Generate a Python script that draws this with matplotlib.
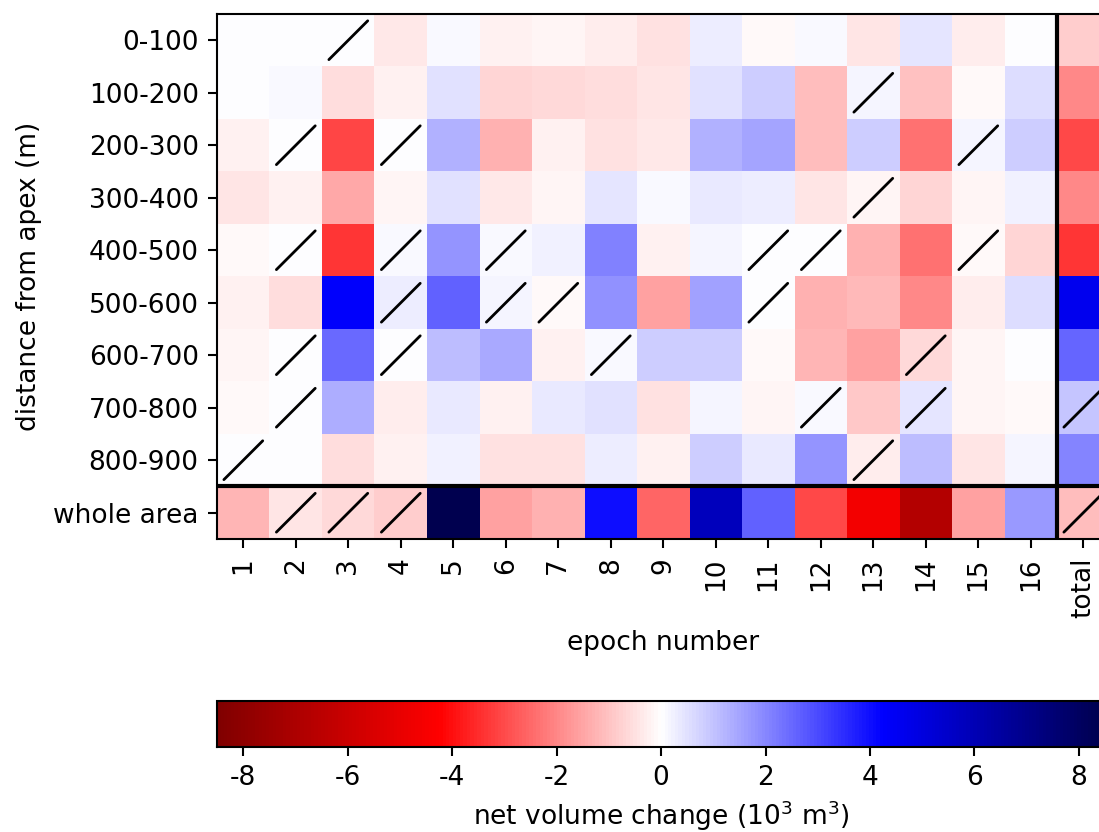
import numpy as np
import matplotlib
matplotlib.use('Agg')
import matplotlib.pyplot as plt

plt.rcParams['font.family'] = 'DejaVu Sans'
plt.rcParams['font.size'] = 19
plt.rcParams['axes.unicode_minus'] = False

linhas = ['0-100', '100-200', '200-300', '300-400', '400-500', '500-600',
          '600-700', '700-800', '800-900', 'whole area']
epocas = [str(i) for i in range(1, 17)] + ['total']

# variação de volume (10^3 m^3), epocas 1..16 e total
d0_100 = [0.02, 0.02, 0.0, -0.35, 0.12, -0.25, -0.15, -0.33, -0.48, 0.30, -0.10, 0.12, -0.40, 0.45, -0.28, 0.03, -0.85]
d100_200 = [0.01, 0.08, -0.55, -0.20, 0.52, -0.70, -0.65, -0.55, -0.45, 0.48, 0.85, -1.08, 0.18, -1.05, -0.08, 0.55, -1.98]
d200_300 = [-0.20, 0.02, -3.08, 0.02, 1.28, -1.28, -0.22, -0.50, -0.35, 1.28, 1.50, -1.08, 0.85, -2.38, 0.18, 0.85, -3.05]
d300_400 = [-0.42, -0.25, -1.45, -0.18, 0.50, -0.35, -0.17, 0.45, 0.08, 0.38, 0.32, -0.45, -0.18, -0.68, -0.17, 0.25, -1.98]
d400_500 = [-0.12, 0.02, -3.38, 0.10, 1.78, 0.10, 0.25, 2.12, -0.25, 0.18, 0.0, 0.0, -1.28, -2.38, -0.08, -0.68, -3.38]
d500_600 = [-0.25, -0.55, 4.25, 0.32, 2.65, 0.18, -0.10, 1.85, -1.58, 1.58, 0.0, -1.28, -1.17, -1.95, -0.30, 0.58, 4.6]
d600_700 = [-0.15, 0.0, 2.48, 0.0, 1.08, 1.42, -0.22, 0.10, 0.85, 0.85, -0.08, -1.22, -1.58, -0.62, -0.15, 0.0, 2.58]
d700_800 = [-0.08, 0.0, 1.38, -0.28, 0.38, -0.22, 0.35, 0.52, -0.52, 0.15, -0.15, 0.10, -0.92, 0.42, -0.15, -0.12, 0.98]
d800_900 = [0.02, 0.04, -0.58, -0.25, 0.25, -0.52, -0.52, 0.32, -0.22, 0.82, 0.38, 1.75, -0.28, 1.08, -0.42, 0.18, 2.05]
area_toda = [-1.25, -0.45, -0.62, -0.82, 8.4, -1.58, -1.32, 4.0, -2.58, 5.8, 2.65, -3.05, -4.6, -6.75, -1.55, 1.72, -1.08]

# celulas hachuradas (linha, coluna)
hachura = [(0, 2), (1, 12), (2, 1), (2, 3), (2, 14), (3, 12),
           (4, 1), (4, 3), (4, 5), (4, 10), (4, 11), (4, 14),
           (5, 3), (5, 5), (5, 6), (5, 10),
           (6, 1), (6, 3), (6, 7), (6, 13),
           (7, 1), (7, 11), (7, 13), (7, 16),
           (8, 0), (8, 12),
           (9, 1), (9, 2), (9, 3), (9, 16)]

dados = np.array([d0_100, d100_200, d200_300, d300_400, d400_500, d500_600,
                  d600_700, d700_800, d800_900, area_toda])

fig = plt.figure(figsize=(10.99, 8.32), dpi=100)
ax = fig.add_axes([0.1975, 0.3522, 0.8121, 0.631])
im = ax.imshow(dados, cmap='seismic_r', vmin=-8.5, vmax=8.5, aspect='auto', interpolation='nearest')

for (l, c) in hachura:
    ax.plot([c - 0.37, c + 0.37], [l + 0.37, l - 0.37], color='black', lw=2, solid_capstyle='round')

ax.axvline(15.5, color='black', lw=3)
ax.axhline(8.5, color='black', lw=3)

ax.set_xticks(range(len(epocas)))
ax.set_xticklabels(epocas, rotation=90)
ax.set_yticks(range(len(linhas)))
ax.set_yticklabels(linhas)
ax.set_xlim(-0.5, 16.5)
ax.set_ylim(9.5, -0.5)
ax.tick_params(length=6.6, width=1.5, pad=6.6)
for s in ax.spines.values():
    s.set_linewidth(1.5)
ax.set_xlabel('epoch number', labelpad=9)
ax.set_ylabel('distance from apex (m)', labelpad=8)

cax = fig.add_axes([0.1975, 0.1022, 0.808, 0.0553])
cb = fig.colorbar(im, cax=cax, orientation='horizontal', ticks=range(-8, 9, 2))
cb.outline.set_linewidth(1.5)
cb.ax.tick_params(length=6.6, width=1.5, pad=6.6)
cb.set_label('net volume change (10$^3$ m$^3$)', labelpad=5)

plt.savefig('out.png', dpi=100)
